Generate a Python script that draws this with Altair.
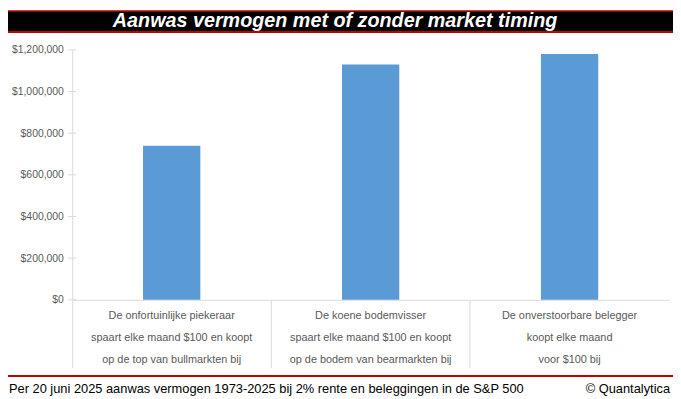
import altair as alt
import pandas as pd

# ---- data ----
categories = [
    "De onfortuinlijke piekeraar\nspaart elke maand $100 en koopt\nop de top van bullmarkten bij",
    "De koene bodemvisser\nspaart elke maand $100 en koopt\nop de bodem van bearmarkten bij",
    "De onverstoorbare belegger\nkoopt elke maand\nvoor $100 bij",
]
values = [740000, 1130000, 1180000]
y_ticks = [0, 200000, 400000, 600000, 800000, 1000000, 1200000]
title_text = "Aanwas vermogen met of zonder market timing"
footer_left = "Per 20 juni 2025 aanwas vermogen 1973-2025 bij 2% rente en beleggingen in de S&P 500"
footer_right = "\u00a9 Quantalytica"

df = pd.DataFrame({"cat": categories, "value": values})
ticks_df = pd.DataFrame({"value": y_ticks})
one = pd.DataFrame({"a": [0]})

FONT = "Liberation Sans"
GRAY = "#595959"
LINE = "#d9d9d9"
RED = "#c00000"

xscale = alt.Scale(domain=categories, paddingInner=0, paddingOuter=0)
yscale = alt.Scale(domain=[0, 1200000], nice=False)

yaxis = alt.Axis(title=None, format="$,.0f", values=y_ticks, ticks=False,
                 tickSize=0, labelPadding=9, labelColor=GRAY, labelFont=FONT,
                 labelFontSize=10.5, domainColor=LINE, grid=False)

bars = alt.Chart(df).mark_bar(size=58, color="#5b9bd5").encode(
    x=alt.X("cat:N", sort=categories, scale=xscale,
            axis=alt.Axis(title=None, labels=False, bandPosition=0, tickSize=69,
                          tickColor=LINE, domainColor=LINE, grid=False)),
    y=alt.Y("value:Q", scale=yscale, axis=yaxis),
)

yticks = alt.Chart(ticks_df).mark_rule(color=LINE).encode(
    y=alt.Y("value:Q", scale=yscale, axis=yaxis),
    x=alt.value(-4), x2=alt.value(4),
)

cat_labels = alt.Chart(df).mark_text(
    font=FONT, fontSize=11, color=GRAY, lineBreak="\n", lineHeight=22.5,
    baseline="middle", align="center",
).encode(
    x=alt.X("cat:N", sort=categories, scale=xscale),
    y=alt.value(269),
    text="cat:N",
)

red_top = alt.Chart(one).mark_rect(color=RED).encode(
    x=alt.value(-65), x2=alt.value(608), y=alt.value(-40), y2=alt.value(-17))
black_bar = alt.Chart(one).mark_rect(color="black").encode(
    x=alt.value(-65), x2=alt.value(608), y=alt.value(-38.5), y2=alt.value(-19))
title = alt.Chart(one).mark_text(
    font=FONT, fontSize=20, fontWeight="bold", fontStyle="italic", color="white",
    align="center", baseline="alphabetic",
).encode(x=alt.value(266), y=alt.value(-23), text=alt.value(title_text))

red_bottom = alt.Chart(one).mark_rect(color=RED).encode(
    x=alt.value(-65), x2=alt.value(608), y=alt.value(329), y2=alt.value(331))
foot_l = alt.Chart(one).mark_text(
    font=FONT, fontSize=13, color="black", align="left", baseline="alphabetic",
).encode(x=alt.value(-64), y=alt.value(347), text=alt.value(footer_left))
foot_r = alt.Chart(one).mark_text(
    font=FONT, fontSize=13, color="black", align="right", baseline="alphabetic",
).encode(x=alt.value(605), y=alt.value(347), text=alt.value(footer_right))

chart = alt.layer(
    red_top, black_bar, title, bars, yticks, cat_labels, red_bottom, foot_l, foot_r
).properties(
    width=604, height=253, autosize="none", background="white",
    padding={"left": 65, "top": 40, "right": 4, "bottom": 98},
).configure_view(stroke=None)

chart.save("out.html", embed_options={"renderer": "svg", "actions": False})
